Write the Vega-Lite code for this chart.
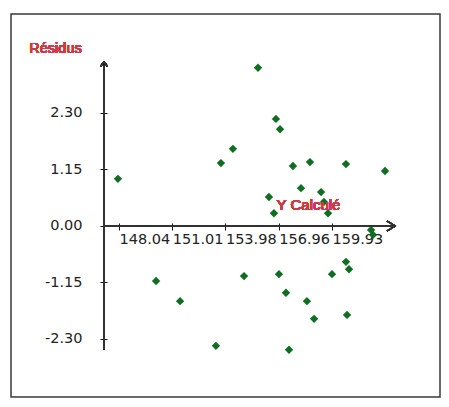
{
  "$schema": "https://vega.github.io/schema/vega-lite/v6.json",
  "width": 429,
  "height": 383,
  "autosize": {"type": "none"},
  "padding": {"left": 11, "top": 14, "right": 9, "bottom": 10},
  "background": "#ffffff",
  "config": {
    "view": {"stroke": "#3a3a3a", "strokeWidth": 1.5},
    "axis": {"grid": false, "domain": false, "labelFont": "DejaVu Sans", "labelFontSize": 14.5, "labelColor": "#222222", "tickColor": "#111111", "tickWidth": 1}
  },
  "data": {
    "values": [
      {"ycalc": 147.98, "res": 0.96},
      {"ycalc": 155.80, "res": 3.22},
      {"ycalc": 156.80, "res": 2.18},
      {"ycalc": 157.03, "res": 1.97},
      {"ycalc": 154.40, "res": 1.57},
      {"ycalc": 153.73, "res": 1.28},
      {"ycalc": 157.75, "res": 1.22},
      {"ycalc": 158.70, "res": 1.30},
      {"ycalc": 160.71, "res": 1.26},
      {"ycalc": 162.89, "res": 1.12},
      {"ycalc": 158.20, "res": 0.77},
      {"ycalc": 159.32, "res": 0.69},
      {"ycalc": 156.41, "res": 0.59},
      {"ycalc": 159.48, "res": 0.49},
      {"ycalc": 159.71, "res": 0.26},
      {"ycalc": 156.69, "res": 0.26},
      {"ycalc": 162.11, "res": -0.08},
      {"ycalc": 162.22, "res": -0.18},
      {"ycalc": 150.11, "res": -1.12},
      {"ycalc": 151.45, "res": -1.53},
      {"ycalc": 153.45, "res": -2.44},
      {"ycalc": 155.02, "res": -1.02},
      {"ycalc": 156.97, "res": -0.98},
      {"ycalc": 159.93, "res": -0.98},
      {"ycalc": 160.71, "res": -0.73},
      {"ycalc": 160.88, "res": -0.88},
      {"ycalc": 157.36, "res": -1.36},
      {"ycalc": 158.53, "res": -1.53},
      {"ycalc": 158.93, "res": -1.89},
      {"ycalc": 160.77, "res": -1.81},
      {"ycalc": 157.53, "res": -2.52}
    ]
  },
  "layer": [
    {
      "mark": {"type": "point", "shape": "diamond", "filled": true, "size": 70, "fill": "#0f6e22", "strokeWidth": 0, "opacity": 1},
      "encoding": {
        "x": {
          "field": "ycalc", "type": "quantitative",
          "scale": {"domain": [142.011, 165.959], "nice": false, "zero": false},
          "axis": {"title": null, "orient": "bottom", "offset": -174, "values": [148.04, 151.01, 153.98, 156.96, 159.93], "format": ".2f", "tickSize": 7, "labelPadding": 2, "labelAlign": "left", "labelDx": -9, "labelBaseline": "top", "labelFlush": false, "labelOverlap": false}
        },
        "y": {
          "field": "res", "type": "quantitative",
          "scale": {"domain": [-3.481, 4.315], "nice": false, "zero": false},
          "axis": {"title": null, "orient": "left", "offset": -96, "values": [-2.3, -1.15, 0, 1.15, 2.3], "labelExpr": "replace(format(datum.value, '.2f'), '\u2212', '-')", "tickSize": 7, "labelPadding": 18, "labelDy": 1, "labelFlush": false, "labelOverlap": false}
        }
      }
    },
    {
      "mark": {"type": "rule", "color": "#333333", "strokeWidth": 1.5},
      "encoding": {
        "x": {"datum": 147.203, "type": "quantitative"},
        "x2": {"datum": 163.28},
        "y": {"datum": 0, "type": "quantitative"}
      }
    },
    {
      "mark": {"type": "rule", "color": "#333333", "strokeWidth": 1.5},
      "encoding": {
        "x": {"datum": 147.203, "type": "quantitative"},
        "y": {"datum": -2.524, "type": "quantitative"},
        "y2": {"datum": 3.318}
      }
    },
    {
      "mark": {"type": "point", "shape": "M-1.6,-1L0,0L-1.6,1", "filled": false, "size": 100, "stroke": "#333333", "strokeWidth": 1.2, "opacity": 1},
      "encoding": {
        "x": {"datum": 163.45, "type": "quantitative"},
        "y": {"datum": 0, "type": "quantitative"}
      }
    },
    {
      "mark": {"type": "point", "shape": "M-1,1.3L0,0L1,1.3", "filled": false, "size": 49, "stroke": "#333333", "strokeWidth": 1.2, "opacity": 1},
      "encoding": {
        "x": {"datum": 147.203, "type": "quantitative"},
        "y": {"datum": 3.34, "type": "quantitative"}
      }
    },
    {
      "mark": {"type": "text", "text": "Résidus", "font": "Liberation Sans", "fontSize": 14.5, "fontWeight": "normal", "fill": "#cf3a44", "align": "center", "baseline": "middle"},
      "encoding": {
        "x": {"datum": 144.495, "type": "quantitative"},
        "y": {"datum": 3.603, "type": "quantitative"}
      }
    },
    {
      "mark": {"type": "text", "text": "Y Calculé", "font": "Liberation Sans", "fontSize": 15, "fontWeight": "normal", "fill": "#cf3a44", "align": "center", "baseline": "middle"},
      "encoding": {
        "x": {"datum": 158.618, "type": "quantitative"},
        "y": {"datum": 0.427, "type": "quantitative"}
      }
    }
  ]
}
